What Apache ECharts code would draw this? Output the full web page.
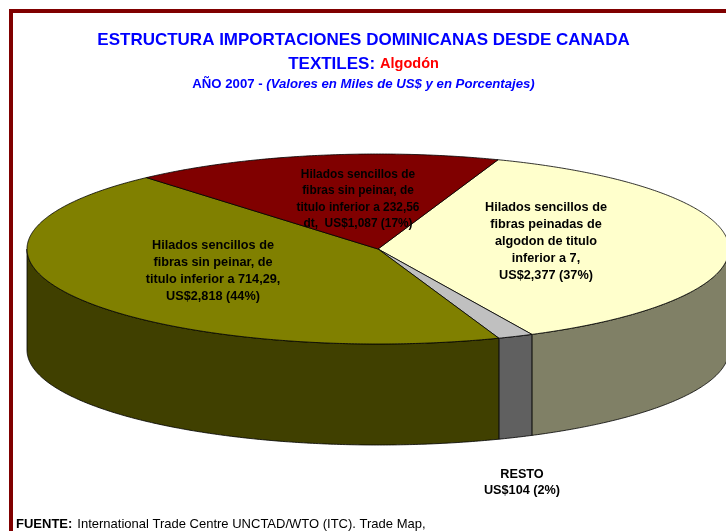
<!DOCTYPE html>
<html><head><meta charset="utf-8">
<style>html,body{margin:0;padding:0;background:#fff}#c{width:726px;height:531px}</style>
<script src="https://cdn.jsdelivr.net/npm/echarts@6/dist/echarts.min.js"></script>
</head><body><div id="c"></div>
<script>
// Data, in drawing order (clockwise from the start angle)
const categories = [
  'Hilados sencillos de\nfibras peinadas de\nalgodon de titulo\ninferior a 7,',
  'RESTO',
  'Hilados sencillos de\nfibras sin peinar, de\ntitulo inferior a 714,29,',
  'Hilados sencillos de\nfibras sin peinar, de\ntitulo inferior a 232,56\ndt, '
];
const values = [2377, 104, 2818, 1087];
const valueLabels = ['US$2,377 (37%)', 'US$104 (2%)', 'US$2,818 (44%)', ' US$1,087 (17%)'];
const topColors = ['#FFFFCC', '#C0C0C0', '#808000', '#800000'];
const sideColors = ['#808066', '#606060', '#404000', '#400000'];

// Layout of the tilted pie
const FONT = '"Liberation Sans", Arial, sans-serif';
const CX = 378, CY = 249, RX = 351, RY = 95, DEPTH = 101, START_DEG = 20;
const labelAnchors = [[546, 241], [522, 482], [213, 271], [358, 199]];
const labelHeights = [17, 16, 17, 16.5];
const labelSizes = [12.7, 12.7, 12.7, 11.9];

const total = values.reduce((a, b) => a + b, 0);
let acc = 0;
const rows = values.map((v, i) => { const r = [i, acc, v]; acc += v; return r; });

function pt(deg, dy) {
  const a = deg * Math.PI / 180;
  return [CX + RX * Math.sin(a), CY - RY * Math.cos(a) + (dy || 0)];
}
function arc(a0, a1, dy) {
  const n = Math.max(2, Math.ceil(Math.abs(a1 - a0) * 2));
  const out = [];
  for (let k = 0; k <= n; k++) out.push(pt(a0 + (a1 - a0) * k / n, dy));
  return out;
}
function renderItem(params, api) {
  const i = api.value(0);
  const a0 = START_DEG + api.value(1) / total * 360;
  const a1 = a0 + api.value(2) / total * 360;
  const children = [];
  // outer wall: only the part of the slice on the front half
  const s0 = Math.max(a0, 90), s1 = Math.min(a1, 270);
  if (s1 > s0) {
    children.push({
      type: 'polygon', z2: 1,
      shape: { points: arc(s0, s1, 0).concat(arc(s1, s0, DEPTH)) },
      style: { fill: sideColors[i], stroke: '#000', lineWidth: 0.8 }
    });
  }
  children.push({
    type: 'polygon', z2: 2,
    shape: { points: [[CX, CY]].concat(arc(a0, a1, 0)) },
    style: { fill: topColors[i], stroke: '#000', lineWidth: 0.8, lineJoin: 'round' }
  });
  children.push({
    type: 'text', z2: 10,
    style: {
      x: labelAnchors[i][0], y: labelAnchors[i][1],
      text: categories[i] + (categories[i].endsWith(' ') ? '' : '\n') + valueLabels[i],
      fill: '#000', font: 'bold ' + labelSizes[i] + 'px ' + FONT,
      align: 'center', verticalAlign: 'middle', lineHeight: labelHeights[i]
    }
  });
  return { type: 'group', children };
}

const chart = echarts.init(document.getElementById('c'), null, { renderer: 'canvas' });
chart.setOption({
  animation: false,
  backgroundColor: '#fff',
  title: [
    { text: 'ESTRUCTURA IMPORTACIONES DOMINICANAS DESDE CANADA', left: 358.5, top: 27, textAlign: 'center',
      textStyle: { color: '#0000FF', fontFamily: FONT, fontWeight: 'bold', fontSize: 17 } },
    { text: '{a|TEXTILES:} {b|Algodón}', left: 358.5, top: 50, textAlign: 'center',
      textStyle: { rich: {
        a: { color: '#0000FF', fontFamily: FONT, fontWeight: 'bold', fontSize: 17 },
        b: { color: '#FF0000', fontFamily: FONT, fontWeight: 'bold', fontSize: 14.5 } } } },
    { text: '{a|AÑO 2007 - }{b|(Valores en Miles de US$ y en Porcentajes)}', left: 358.5, top: 73, textAlign: 'center',
      textStyle: { rich: {
        a: { color: '#0000FF', fontFamily: FONT, fontWeight: 'bold', fontSize: 13.2 },
        b: { color: '#0000FF', fontFamily: FONT, fontWeight: 'bold', fontStyle: 'italic', fontSize: 13.2 } } } },
    { text: '{a|FUENTE:} {b|International Trade Centre UNCTAD/WTO (ITC). Trade Map,}', left: 11, top: 510,
      textStyle: { rich: {
        a: { color: '#000', fontFamily: FONT, fontWeight: 'bold', fontSize: 13 },
        b: { color: '#000', fontFamily: FONT, fontWeight: 'normal', fontSize: 13 } } } }
  ],
  graphic: [
    { type: 'rect', shape: { x: 9, y: 9, width: 717, height: 4 }, style: { fill: '#800000' } },
    { type: 'rect', shape: { x: 9, y: 9, width: 4, height: 522 }, style: { fill: '#800000' } }
  ],
  series: [{ type: 'custom', coordinateSystem: 'none', renderItem, data: rows, silent: true, clip: false }]
});
</script></body></html>
